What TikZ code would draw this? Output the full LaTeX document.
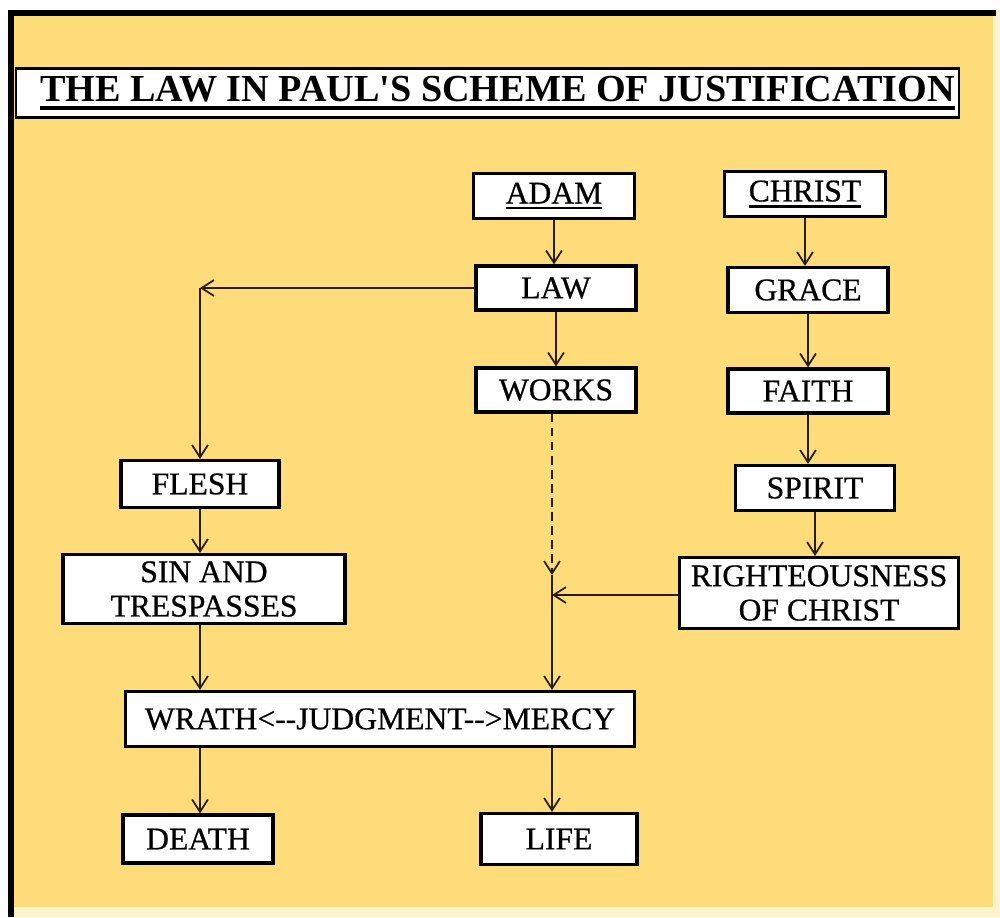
\documentclass[tikz,border=0pt]{standalone}
\usepackage{graphicx}
\usepackage{fontspec}
\setmainfont{Liberation Serif}[Ligatures=TeXOff]
\newfontfamily\boxfont{Liberation Serif}[Ligatures=TeXOff,FakeBold=0.6]
\usetikzlibrary{arrows.meta}
\definecolor{paper}{RGB}{254,220,122}
\definecolor{rim}{RGB}{255,243,208}
\definecolor{ink}{RGB}{40,28,22}
\newcommand{\headul}[2]{\vtop{\hbox{#2}\kern2pt\hrule height #1}}
\begin{document}
\begin{tikzpicture}[x=0.02cm,y=-0.02cm,
  box/.style={draw,line width=1.8pt,fill=white,align=center,inner sep=0pt,font=\fontsize{18}{19.5}\boxfont},
  arr/.style={draw=ink,line width=1pt,-{Straight Barb[length=7pt,width=9pt]}}]
\useasboundingbox (0,0) rectangle (1000,917);
\fill[rim] (0,0) rectangle (1000,917); \fill[white] (0,0) rectangle (1000,10); \fill[white] (0,0) rectangle (8,917);
\fill[paper] (14,16) rectangle (993,907);
\draw[line width=3.4pt] (11,917) -- (11,13) -- (996,13);
% title
\node[draw,line width=1.2pt,fill=white,inner sep=0pt,minimum width=18.85cm,minimum height=0.98cm] at (487.5,93) (title) {\hspace*{0.4cm}\resizebox{18.3cm}{!}{\fontsize{20}{22}\selectfont\bfseries\headul{1.8pt}{THE LAW IN PAUL'S SCHEME OF JUSTIFICATION}}};
% boxes
\node[box,minimum width=3.22cm,minimum height=0.9cm] at (554,196) (adam) {\headul{1.3pt}{ADAM}}; \node[box,minimum width=3.22cm,minimum height=0.9cm] at (805,194) (christ) {\headul{1.3pt}{CHRIST}};
\node[box,minimum width=3.2cm,minimum height=0.88cm] at (556,288) (law) {LAW}; \node[box,minimum width=3.2cm,minimum height=0.9cm] at (808,290) (grace) {GRACE};
\node[box,minimum width=3.2cm,minimum height=0.88cm] at (556,390) (works) {WORKS}; \node[box,minimum width=3.2cm,minimum height=0.88cm] at (808,391) (faith) {FAITH};
\node[box,minimum width=3.16cm,minimum height=0.94cm] at (200,484) (flesh) {FLESH}; \node[box,minimum width=3.18cm,minimum height=0.9cm] at (815,488) (spirit) {SPIRIT};
\node[box,minimum width=5.64cm,minimum height=1.38cm] at (204,589) (sin) {SIN AND\\TRESPASSES}; \node[box,minimum width=5.58cm,minimum height=1.42cm] at (819,593) (right) {RIGHTEOUSNESS\\OF CHRIST};
\node[box,minimum width=10.18cm,minimum height=1.1cm] at (380,719) (wrath) {WRATH<--JUDGMENT-->MERCY};
\node[box,minimum width=3.0cm,minimum height=0.96cm] at (198,839) (death) {DEATH}; \node[box,minimum width=3.12cm,minimum height=1.02cm] at (559,839) (life) {LIFE};
\coordinate (gap) at (552,575); \coordinate (meet) at (552,595);
% arrows
\draw[arr] (adam) -- (adam |- law.north); \draw[arr] (law) -- (law |- works.north);
\draw[arr] (law) -- (law -| flesh); \draw[arr] (law -| flesh) -- (flesh);
\draw[arr] (flesh) -- (flesh |- sin.north); \draw[arr] (flesh |- sin.south) -- (flesh |- wrath.north);
\draw[arr] (flesh |- wrath.south) -- (flesh |- death.north);
\draw[arr,dash pattern=on 5pt off 3pt] (gap |- works.south) -- (gap); \draw[arr] (gap) -- (gap |- wrath.north);
\draw[arr] (meet -| right.west) -- (meet); \draw[arr] (gap |- wrath.south) -- (gap |- life.north);
\draw[arr] (christ) -- (christ |- grace.north); \draw[arr] (grace) -- (grace |- faith.north);
\draw[arr] (faith) -- (faith |- spirit.north); \draw[arr] (spirit) -- (spirit |- right.north);
\end{tikzpicture}
\end{document}
